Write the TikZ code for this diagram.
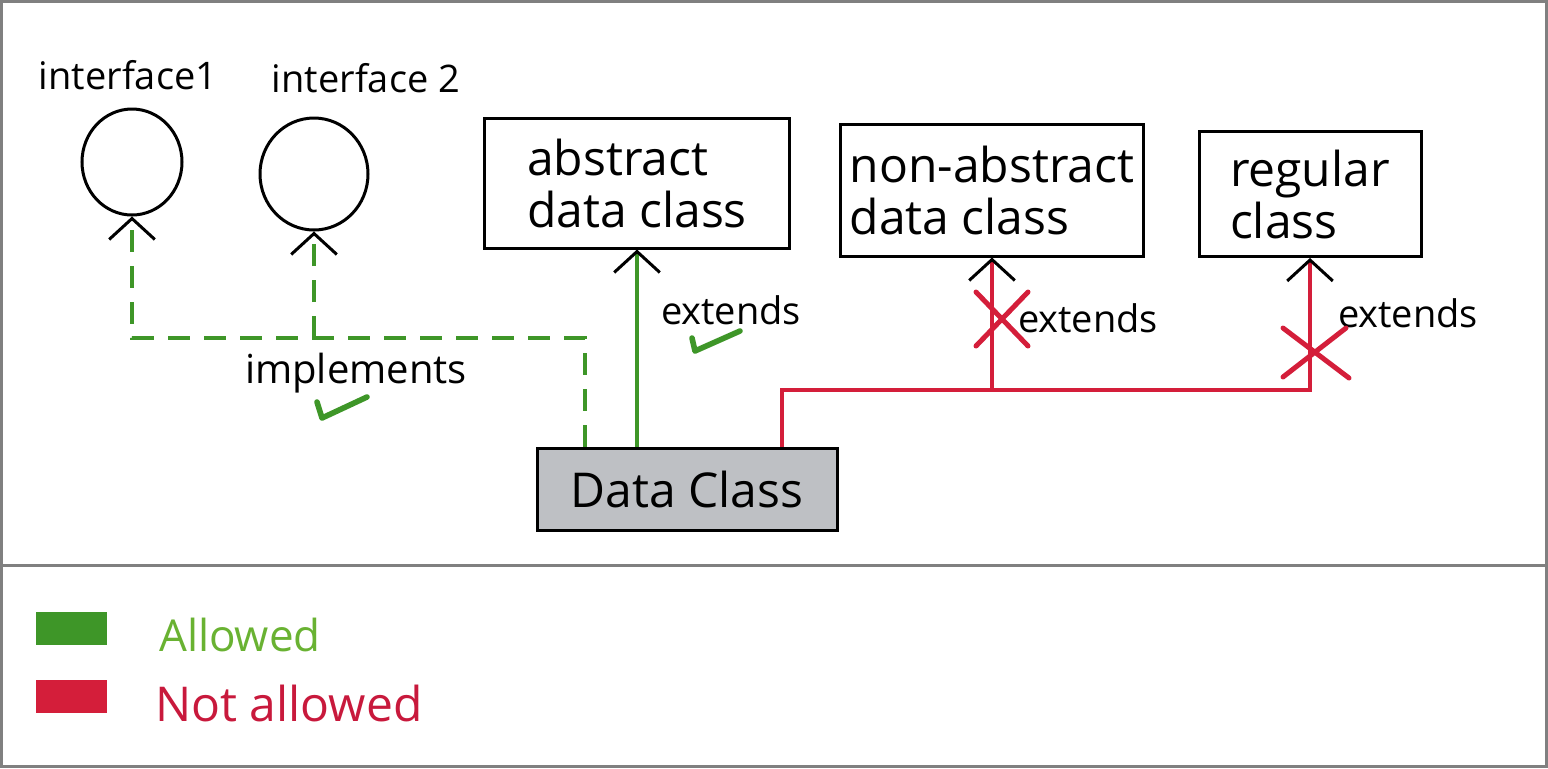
\documentclass[tikz,border=0pt]{standalone}
\usepackage{fontspec}
\setmainfont{Open Sans}
\usetikzlibrary{arrows.meta,shapes.geometric,calc}
\definecolor{okgreen}{RGB}{62,150,40}
\definecolor{oktext}{RGB}{105,178,50}
\definecolor{nored}{RGB}{212,30,58}
\definecolor{notext}{RGB}{200,25,60}
\definecolor{dcgray}{RGB}{190,192,196}
\definecolor{framegray}{RGB}{128,128,128}
\begin{document}
\begin{tikzpicture}[x=0.5pt,y=-0.5pt,
  box/.style={draw=black,line width=1.5pt,rectangle,inner sep=0pt,align=left,font=\fontsize{24}{26}\selectfont},
  iface/.style={draw=black,line width=1.5pt,ellipse,inner sep=0pt},
  lbl/.style={font=\fontsize{19}{23}\selectfont,inner sep=0pt},
  arrowtip/.style={-{Straight Barb[length=5.5pt,width=12pt,black,line width=1.5pt,scale=1.9]}},
  okline/.style={draw=okgreen,line width=2.2pt},
  okdash/.style={okline,dash pattern=on 11pt off 7pt},
  noline/.style={draw=nored,line width=1.8pt},
  nocross/.style={draw=nored,line width=2.5pt,line cap=round},
  okcheck/.style={draw=okgreen,line width=2.8pt,line cap=round,line join=round},
  legendbar/.style={rectangle,inner sep=0pt,minimum width=35.5pt,minimum height=16.5pt}
]
\useasboundingbox (0,0) rectangle (1548,768);
% frame
\draw[framegray,line width=1.5pt] (1.5,1.5) rectangle (1546.5,766.5);
\draw[framegray,line width=1.5pt] (0,565) -- (1548,565);

% interfaces
\node[iface,minimum width=50pt,minimum height=53pt] (i1) at (132,162) {};
\node[iface,minimum width=54pt,minimum height=56pt] (i2) at (314,174) {};
\node[lbl] (t1) at (128,75) {interface1};
\node[lbl] (t2) at (366,78) {interface 2};

% classes
\node[box,minimum width=152.5pt,minimum height=65pt] (ab) at (637,183) {abstract\\data class};
\node[box,minimum width=151.5pt,minimum height=66pt] (na) at (992,190) {non-abstract\\data class};
\node[box,minimum width=111pt,minimum height=62.5pt] (reg) at (1310,194) {regular\\class};
\node[box,fill=dcgray,minimum width=150pt,minimum height=41pt] (dc) at (687,489) {Data Class};

% implements (dashed, green)
\coordinate (g0) at (585,338);
\draw[okdash,arrowtip] (dc.north -| g0) -- (g0) -- (g0 -| i1.south) -- (i1.south);
\draw[okdash,arrowtip] (g0 -| i2.south) -- (i2.south);
\node[lbl,font=\fontsize{20}{24}\selectfont] (timpl) at (356,373) {implements};
\draw[okcheck] (317,402) -- (322,418) -- (367,397);

% extends abstract (green)
\draw[okline,arrowtip] (dc.north -| ab.south) -- (ab.south);
\node[lbl] (te1) at (731,310) {extends};
\draw[okcheck] (692,338) -- (695,351) -- (740,331);

% not allowed (red)
\coordinate (r0) at (782,390);
\draw[noline,arrowtip] (dc.north -| r0) -- (r0) -- (r0 -| reg.south) -- (reg.south);
\draw[noline,arrowtip] (r0 -| na.south) -- (na.south);
\node[lbl] (te2) at (1088,318) {extends};
\node[lbl] (te3) at (1408,313) {extends};
\coordinate (x1) at (1002,319);
\coordinate (x2) at (1316,353);
\draw[nocross] (x1) +(-26,-27) -- +(26,27) +(26,-27) -- +(-26,27);
\draw[nocross] (x2) +(-33,-25) -- +(33,25) +(30,-25) -- +(-33,24);

% legend
\node[legendbar,fill=okgreen] (lg) at (71,628) {};
\node[legendbar,fill=nored] (lr) at (71,696) {};
\node[lbl,text=oktext,font=\fontsize{22}{26}\selectfont] (tl1) at (240,635) {Allowed};
\node[lbl,text=notext,font=\fontsize{24}{28}\selectfont] (tl2) at (289,703) {Not allowed};
\end{tikzpicture}
\end{document}
